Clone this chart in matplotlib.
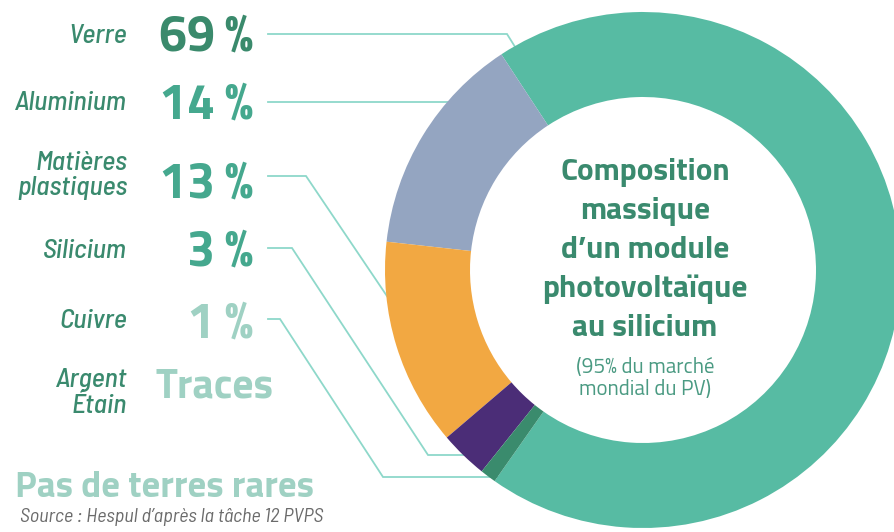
import matplotlib
matplotlib.use("Agg")
import matplotlib.pyplot as plt

# composition massique (%) - order of the ring, counterclockwise from the bottom
materials = ["Verre", "Aluminium", "Matières\nplastiques", "Silicium", "Cuivre"]
shares = [69, 14, 13, 3, 1]
ring_colors = ["#57bba3", "#94a5c1", "#f2a842", "#4b2d77", "#3a8b6d"]
pct_colors = ["#3a8a6c", "#45a88e", "#45a88e", "#45a88e", "#9fd1c3"]
trace_label = "Argent\nÉtain"
trace_text = "Traces"

title_lines = ["Composition", "massique", "d\u2019un module", "photovolta\u00efque", "au silicium"]
sub_lines = ["(95% du marché", "mondial du PV)"]

GREEN = "#3a8a6e"
PALE = "#9fd1c3"
LINE = "#8ed8ca"
LAB_FONT = "Barlow Semi Condensed"
BIG_FONT = ["Titillium Web", "DejaVu Sans"]

fig = plt.figure(figsize=(8.94, 5.32), dpi=100)
ax = fig.add_axes([0, 0, 1, 1])

# ring (y axis is flipped below, so clockwise in data = counterclockwise on screen)
ax.pie(shares, colors=ring_colors, center=(643, 270), radius=258,
       startangle=-234.9, counterclock=False,
       wedgeprops=dict(width=85, edgecolor="none", linewidth=0, zorder=3))
ax.set_xlim(0, 894)
ax.set_ylim(532, 0)
ax.axis("off")

# leader lines, tucked under the ring
leaders = [
    [(268, 34), (507, 34), (522, 58)],
    [(268, 102), (462, 102)],
    [(268, 176), (306, 176), (393, 305)],
    [(268, 248), (292, 248), (428, 455), (468, 455)],
    [(268, 319), (280, 319), (383, 477), (498, 477)],
]
for pts in leaders:
    xs, ys = zip(*pts)
    ax.plot(xs, ys, color=LINE, lw=1.3, zorder=1, solid_joinstyle="miter")

# left column: labels and percentages
label_base = [43, 110, 170, 258, 328]
pct_base = [50, 118, 197, 265, 337]
for i, (m, v) in enumerate(zip(materials, shares)):
    lines = m.split("\n")
    for k, ln in enumerate(lines):
        ax.text(127, label_base[i] + 25 * k, ln, ha="right", va="baseline",
                fontsize=20, family=LAB_FONT, style="italic", weight="medium",
                color=GREEN)
    ax.text(253, pct_base[i], f"{v}\u2009%", ha="right", va="baseline",
            fontsize=36, family=BIG_FONT, weight="bold", color=pct_colors[i])

for k, ln in enumerate(trace_label.split("\n")):
    ax.text(127, 387 + 26 * k, ln, ha="right", va="baseline", fontsize=20,
            family=LAB_FONT, style="italic", weight="medium", color=GREEN)
ax.text(155, 397, trace_text, ha="left", va="baseline", fontsize=30,
        family=BIG_FONT, weight="bold", color=PALE)

ax.text(15, 497, "Pas de terres rares", ha="left", va="baseline", fontsize=26.5,
        family=BIG_FONT, weight="bold", color=PALE)
ax.text(20, 522, "Source : Hespul d\u2019après la tâche 12 PVPS", ha="left",
        va="baseline", fontsize=14.5, family=LAB_FONT, style="italic",
        color="#6b6b6b")

# centre of the ring
for k, ln in enumerate(title_lines):
    ax.text(645, 180 + 39 * k, ln, ha="center", va="baseline", fontsize=22.5,
            family=BIG_FONT, weight="bold", color=GREEN, zorder=5)
for k, ln in enumerate(sub_lines):
    ax.text(645, 373 + 22 * k, ln, ha="center", va="baseline", fontsize=15,
            family=BIG_FONT, color="#4a9a82", zorder=5)

fig.savefig("out.png", dpi=100)
